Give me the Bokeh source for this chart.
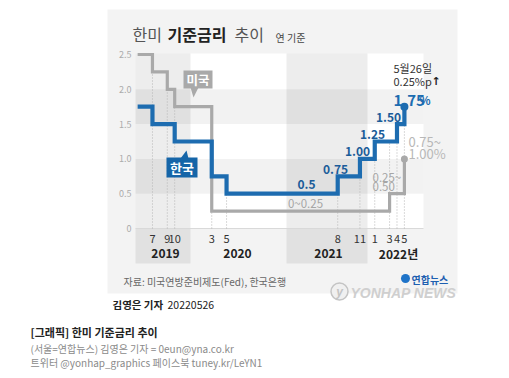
from bokeh.plotting import figure
from bokeh.models import Range1d, Label, ColumnDataSource
from bokeh.core.properties import value
from bokeh.embed import file_html
from bokeh.resources import INLINE

# ---------------- data ----------------
kr_dates = ["2019-05", "2019-07", "2019-10", "2020-03", "2020-05", "2021-08", "2021-11", "2022-01", "2022-04", "2022-05"]
kr_rates = [1.75, 1.50, 1.25, 0.75, 0.50, 0.75, 1.00, 1.25, 1.50, 1.75]
us_dates = ["2019-05", "2019-07", "2019-09", "2019-10", "2020-03", "2022-03", "2022-05"]
us_rates = [2.50, 2.25, 2.00, 1.75, 0.25, 0.50, 1.00]
tick_dates = ["2019-07", "2019-09", "2019-10", "2020-03", "2020-05", "2021-08", "2021-11", "2022-01", "2022-03", "2022-04", "2022-05"]
tick_labels = ["7", "9", "10", "3", "5", "8", "11", "1", "3", "4", "5"]
year_labels = ["2019", "2020", "2021", "2022년"]
y_ticks = [0, 0.5, 1.0, 1.5, 2.0, 2.5]
y_tick_labels = ["0", "0.5", "1.0", "1.5", "2.0", "2.5"]
kr_step_labels = ["0.5", "0.75", "1.00", "1.25", "1.50"]

FONT = "Noto Sans CJK KR"
W, H = 509, 378
X0, PPM = 107.5, 7.41    # pixel of 2019-01, pixels per month
Y0, PPU = 228.0, 69.6    # pixel of rate 0, pixels per 1%p


def mi(s):
    y, m = s.split("-")
    return (int(y) - 2019) * 12 + int(m) - 1


def px(xp):
    return (xp - X0) / PPM


def py(yp):
    return (Y0 - yp) / PPU


p = figure(width=W, height=H, x_range=Range1d(px(0), px(W)), y_range=Range1d(py(H), py(0)),
           x_axis_type=None, y_axis_type=None, toolbar_location=None,
           output_backend="svg", min_border=0, background_fill_color="white",
           border_fill_color="white", outline_line_color=None)
p.grid.visible = False


def box(x1, x2, y1, y2, color, alpha=1.0):
    p.quad(left=px(x1), right=px(x2), top=py(y1), bottom=py(y2),
           fill_color=color, fill_alpha=alpha, line_color=None)


def txt(xp, yp, s, size, color, bold=False, align="left", baseline="middle", italic=False, font=FONT):
    style = "normal"
    if bold and italic:
        style = "bold italic"
    elif bold:
        style = "bold"
    elif italic:
        style = "italic"
    p.add_layout(Label(x=px(xp), y=py(yp), text=s, text_font=font, text_font_size=f"{size}px",
                       text_color=color, text_font_style=style, text_align=align, text_baseline=baseline))


# panel background
box(107, 457, 9, 293, "#f3f3f3")
# plot area (white)
box(135, 423, 53, 228, "#ffffff")
# horizontal bands 0.5-1.0, 1.5-2.0
for lo, hi in [(0.5, 1.0), (1.5, 2.0)]:
    p.quad(left=px(135), right=px(423), bottom=lo, top=hi, fill_color="#000000", fill_alpha=0.05, line_color=None)
# year column shading (2019, 2021)
box(135, 190, 53, 263, "#000000", 0.07)
box(286, 367, 53, 263, "#000000", 0.07)
# zero line
p.segment(x0=px(135), x1=px(423), y0=0, y1=0, line_color="#d9d9d9", line_width=1)


# dotted guide lines
def val_before(dates, rates, m):
    v = None
    for d, r in zip(dates, rates):
        if mi(d) < m:
            v = r
    return v if v is not None else 0


def val_at(dates, rates, m):
    v = None
    for d, r in zip(dates, rates):
        if mi(d) <= m:
            v = r
    return v if v is not None else 0


gx, gtop = [], []
for d in tick_dates:
    m = mi(d)
    gx.append(m)
    gtop.append(max(val_before(kr_dates, kr_rates, m), val_at(kr_dates, kr_rates, m),
                    val_before(us_dates, us_rates, m), val_at(us_dates, us_rates, m)))
p.segment(x0=gx, x1=gx, y0=[0] * len(gx), y1=gtop, line_color="#b5b5b5", line_width=1, line_dash="1 2")

# US line
usx = [mi(d) for d in us_dates]
p.step(x=usx, y=us_rates, mode="after", line_color="#a9a9a9", line_width=3.2, line_join="miter")
p.scatter(x=[usx[-1]], y=[us_rates[-1]], size=7, fill_color="#a9a9a9", line_color=None)
# Korea line
krx = [mi(d) for d in kr_dates]
p.step(x=krx, y=kr_rates, mode="after", line_color="#1d6cb0", line_width=4.2, line_join="miter")
p.scatter(x=[krx[-1]], y=[kr_rates[-1]], size=8, fill_color="#1d6cb0", line_color=None)

# y tick labels
src_y = ColumnDataSource(dict(x=[px(131)] * len(y_ticks), y=y_ticks, t=y_tick_labels))
p.text(x="x", y="y", text="t", source=src_y, text_font=value(FONT), text_font_size="9px",
       text_color="#ababab", text_align="right", text_baseline="middle")
# x month tick labels
src_x = ColumnDataSource(dict(x=[mi(d) for d in tick_dates], y=[py(238)] * len(tick_dates), t=tick_labels))
p.text(x="x", y="y", text="t", source=src_x, text_font=value(FONT), text_font_size="11px",
       text_color="#333333", text_align="center", text_baseline="middle")
# year labels
for xp_, s in zip([165, 237, 328, 398], year_labels):
    txt(xp_, 253, s, 12, "#222222", bold=True, align="center")

# Korea step labels
for (xp_, yp_), s in zip([(306, 184), (335, 168.5), (357, 151), (372, 134), (388, 116.5)], kr_step_labels):
    txt(xp_, yp_, s, 12, "#1b5c99", bold=True, align="center")

# US labels
txt(305, 202, "0~0.25", 11.5, "#a6a6a6", align="center")
txt(372, 176, "0.25~", 11.5, "#a6a6a6")
txt(372, 186, "0.50", 11.5, "#a6a6a6")
txt(408, 141, "0.75~", 13, "#b8b8b8")
txt(408, 153, "1.00%", 13, "#b8b8b8")

# latest annotation
txt(393, 67, "5월26일", 11, "#333333")
txt(393, 80.5, "0.25%p", 11, "#333333")
txt(431, 80.5, "↑", 11, "#222222", bold=True, font="DejaVu Sans")
txt(393, 99.5, "1.75", 15, "#1d6cb0", bold=True, baseline="alphabetic")
txt(419, 99.5, "%", 11.5, "#1d6cb0", bold=True, baseline="alphabetic")

# callouts
box(183, 212, 70, 88, "#a9a9a9")
p.patch(x=[px(190), px(198), px(193)], y=[py(87), py(87), py(97)], fill_color="#a9a9a9", line_color=None)
txt(197.5, 79, "미국", 12.5, "#ffffff", bold=True, align="center")
box(166, 197, 157, 177, "#1565a8")
p.patch(x=[px(180), px(188), px(186)], y=[py(158), py(158), py(150)], fill_color="#1565a8", line_color=None)
txt(181.5, 167, "한국", 13, "#ffffff", bold=True, align="center")

# title
txt(132, 33, "한미", 16, "#555555")
txt(167, 33, "기준금리", 16, "#222222", bold=True)
txt(234, 33, "추이", 16, "#555555")
txt(275, 37, "연 기준", 10, "#444444")

# source & logo
txt(123, 281, "자료: 미국연방준비제도(Fed), 한국은행", 10, "#666666")
p.scatter(x=[px(405)], y=[py(278)], size=9, fill_color="#1e73c8", line_color=None)
txt(411, 279, "연합뉴스", 10, "#1e5fb0", bold=True)
p.scatter(x=[px(339)], y=[py(291)], size=17, fill_color="#f0f0f0", line_color="#c4c4c4", line_width=1.5)
txt(339, 291, "y", 12, "#c4c4c4", bold=True, italic=True, align="center", font="Liberation Sans")
txt(350, 292, "YONHAP NEWS", 14, "#cfcfcf", bold=True, italic=True, font="Liberation Sans")

# byline & caption
txt(112, 304, "김영은 기자", 10.5, "#222222", bold=True)
txt(167, 304, "20220526", 10.5, "#222222")
txt(30, 331.5, "[그래픽] 한미 기준금리 추이", 11, "#222222", bold=True)
txt(30, 347.5, "(서울=연합뉴스) 김영은 기자 = 0eun@yna.co.kr", 10, "#8a8a8a")
txt(30, 362, "트위터 @yonhap_graphics 페이스북 tuney.kr/LeYN1", 10, "#8a8a8a")

open("out.html", "w").write(file_html(p, INLINE))
